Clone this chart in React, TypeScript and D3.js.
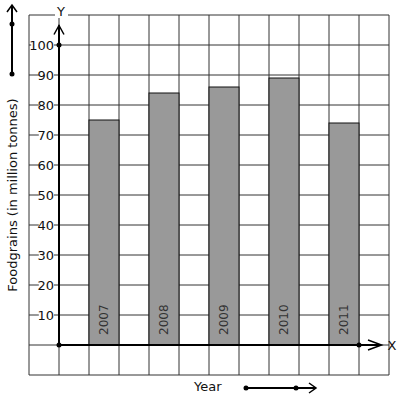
import React from "react";
import * as d3 from "d3";

const years = ["2007", "2008", "2009", "2010", "2011"];
const values = [75, 84, 86, 89, 74];
const yTicks = [10, 20, 30, 40, 50, 60, 70, 80, 90, 100];
const yLabel = "Foodgrains (in million tonnes)";
const xLabel = "Year";

export default function App() {
  const W = 397, H = 401;
  const x = d3.scaleLinear().domain([-1, 11]).range([29, 389]);
  const y = d3.scaleLinear().domain([-10, 110]).range([375, 15]);
  const cols = d3.range(-1, 12);
  const rows = d3.range(-10, 111, 10);
  const font = "DejaVu Sans, sans-serif";
  return (
    <svg width={W} height={H} style={{ position: "absolute", left: 0, top: 0 }} fontFamily={font}>
      <rect width={W} height={H} fill="#fff" />
      {cols.map((c) => (
        <line key={"c" + c} x1={x(c)} x2={x(c)} y1={y(110)} y2={y(-10)} stroke="#333" strokeWidth={1} />
      ))}
      {rows.map((r) => (
        <line key={"r" + r} y1={y(r)} y2={y(r)} x1={x(-1)} x2={x(11)} stroke="#333" strokeWidth={1} />
      ))}
      {values.map((v, i) => (
        <rect key={i} x={x(i * 2 + 1)} y={y(v)} width={x(i * 2 + 2) - x(i * 2 + 1)} height={y(0) - y(v)}
          fill="#999" stroke="#111" strokeWidth={1} />
      ))}
      {years.map((t, i) => (
        <text key={t} transform={`translate(${(x(i * 2 + 1) + x(i * 2 + 2)) / 2 + 4},${y(0) - 10}) rotate(-90)`}
          fontSize={12} fill="#333">{t}</text>
      ))}
      {yTicks.map((t) => {
        const w = String(t).length * 7.6;
        return (
          <g key={t}>
            <rect x={54 - w} y={y(t) - 7} width={w} height={14} fill="#fff" />
            <text x={54} y={y(t) + 5} textAnchor="end" fontSize={13} fill="#111">{t}</text>
          </g>
        );
      })}
      {/* axes */}
      <line x1={x(0)} x2={x(0)} y1={y(0)} y2={y(106.5)} stroke="#000" strokeWidth={2} />
      <polyline points={`${x(0) - 5},${y(103.5)} ${x(0)},${y(106.5)} ${x(0) + 5},${y(103.5)}`} fill="none" stroke="#000" strokeWidth={1.5} />
      <line x1={x(0)} x2={x(10.7)} y1={y(0)} y2={y(0)} stroke="#000" strokeWidth={2} />
      <polyline points={`${x(10.3)},${y(0) - 5} ${x(10.75)},${y(0)} ${x(10.3)},${y(0) + 5}`} fill="none" stroke="#000" strokeWidth={1.5} />
      <circle cx={x(0)} cy={y(100)} r={2.5} fill="#000" />
      <circle cx={x(0)} cy={y(0)} r={2.5} fill="#000" />
      <circle cx={x(10)} cy={y(0)} r={2.5} fill="#000" />
      <rect x={55} y={4} width={13} height={14} fill="#fff" />
      <text x={61} y={16} textAnchor="middle" fontSize={13} fill="#111">Y</text>
      <text x={x(10.95)} y={y(0) + 5} fontSize={13} fill="#111">X</text>
      {/* left decoration arrow */}
      <line x1={12} x2={12} y1={74} y2={6} stroke="#000" strokeWidth={2} />
      <polyline points="7,12 12,5 17,12" fill="none" stroke="#000" strokeWidth={1.5} />
      <circle cx={12} cy={24} r={2.5} fill="#000" />
      <circle cx={12} cy={74} r={2.5} fill="#000" />
      <text transform="translate(17,195) rotate(-90)" textAnchor="middle" fontSize={13} fill="#111">{yLabel}</text>
      {/* bottom decoration */}
      <text x={194} y={391} fontSize={13} fill="#111">{xLabel}</text>
      <line x1={246} x2={316} y1={388} y2={388} stroke="#000" strokeWidth={2} />
      <polyline points="309,383 316,388 309,393" fill="none" stroke="#000" strokeWidth={1.5} />
      <circle cx={246} cy={388} r={2.5} fill="#000" />
      <circle cx={296} cy={388} r={2.5} fill="#000" />
    </svg>
  );
}
